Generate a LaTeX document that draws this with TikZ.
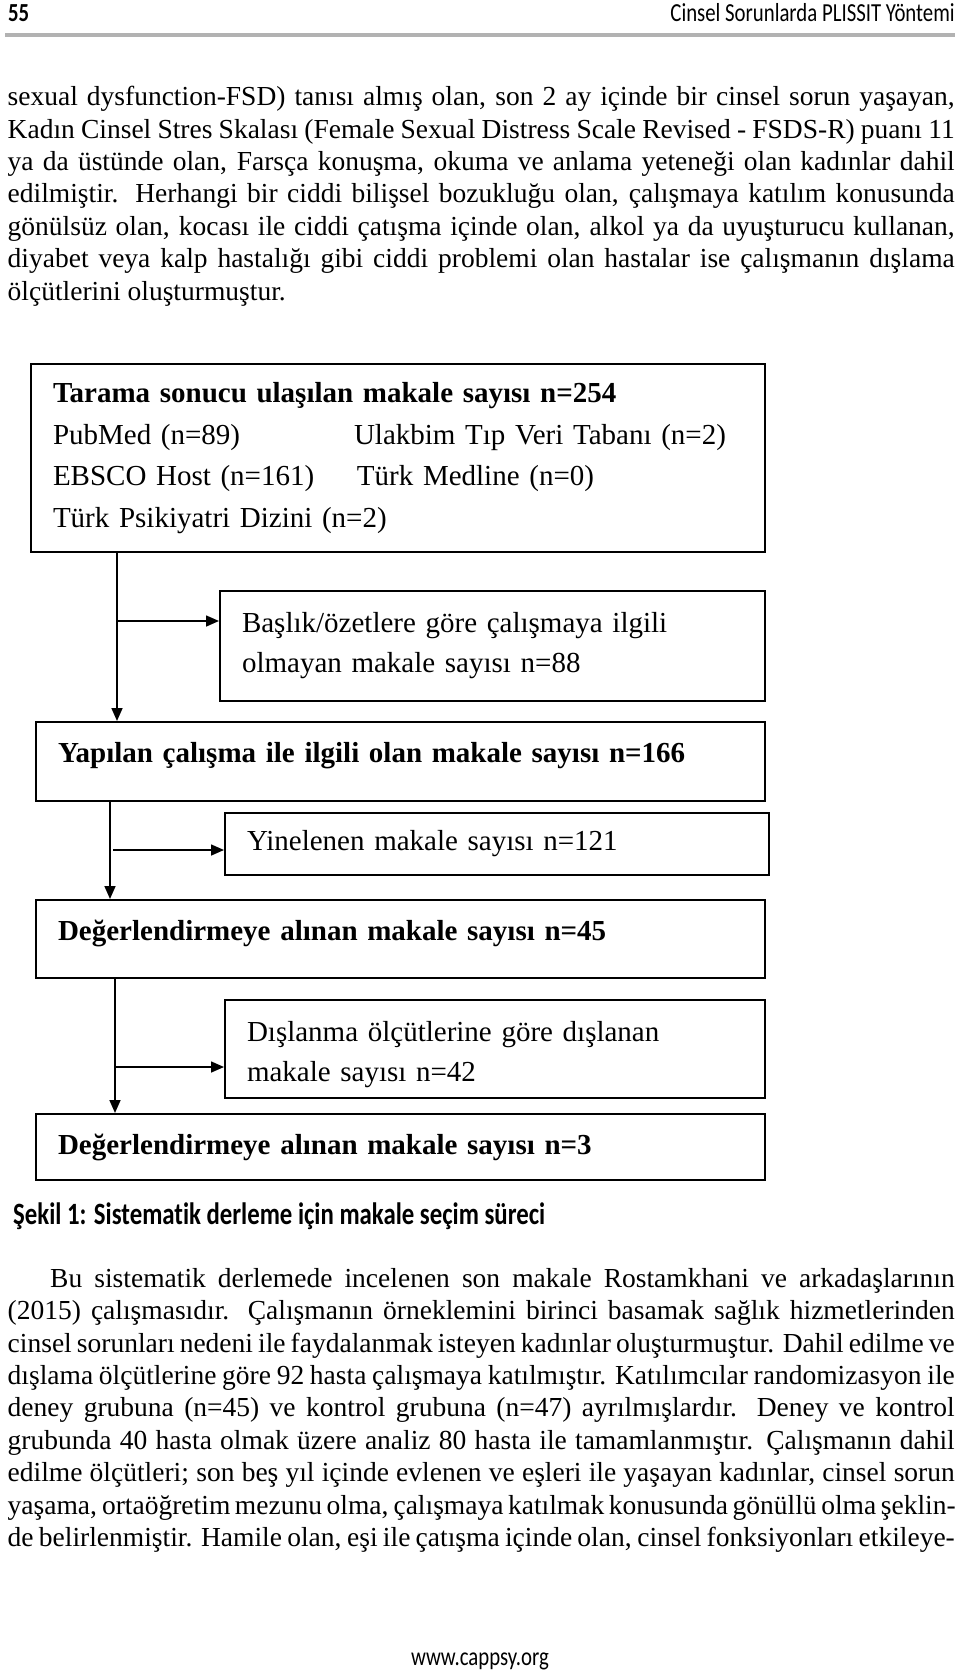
\documentclass[tikz,border=0pt]{standalone}
\usepackage{fontspec}
\setmainfont{Liberation Serif}
\newfontfamily\condsans[FakeStretch=0.8,Ligatures=NoCommon]{Carlito}
\usetikzlibrary{arrows.meta}

\newcommand{\justline}[2][947pt]{\makebox[#1][s]{#2}}

\tikzset{
  flowbox/.style={draw, line width=2pt, anchor=north west, inner xsep=22pt, inner ysep=0pt,
    align=left, font=\fontsize{29}{40}\selectfont},
  bodytext/.style={anchor=base west, inner sep=0pt, align=left, font=\fontsize{27.5}{32.4}\selectfont},
  flow/.style={line width=1.6pt, -{Triangle[length=13pt,width=11pt]}},
}

\begin{document}
\begin{tikzpicture}[x=1pt,y=-1pt]
  \fill[white] (0,0) rectangle (960,1673);
  \useasboundingbox (0,0) rectangle (960,1673);

  \node[anchor=base west, inner sep=0pt, font=\condsans\bfseries\fontsize{26}{28}\selectfont] (pageno) at (8,21) {55};
  \node[anchor=base east, inner sep=0pt, font=\condsans\fontsize{26}{28}\selectfont] (runhead) at (955,21) {Cinsel Sorunlarda PLISSIT Yöntemi};
  \draw[line width=4pt, black!30] (5,35) -- (955,35);

  \node[bodytext] (para1) at (7.5,300) {%
    \justline{sexual dysfunction-FSD) tanısı almış olan, son 2 ay içinde bir cinsel sorun yaşayan,}\\
    \justline{Kadın Cinsel Stres Skalası (Female Sexual Distress Scale Revised - FSDS-R) puanı 11}\\
    \justline{ya da üstünde olan, Farsça konuşma, okuma ve anlama yeteneği olan kadınlar dahil}\\
    \justline{edilmiştir. Herhangi bir ciddi bilişsel bozukluğu olan, çalışmaya katılım konusunda}\\
    \justline{gönülsüz olan, kocası ile ciddi çatışma içinde olan, alkol ya da uyuşturucu kullanan,}\\
    \justline{diyabet veya kalp hastalığı gibi ciddi problemi olan hastalar ise çalışmanın dışlama}\\
    ölçütlerini oluşturmuştur.};

  \node[flowbox, text width=690pt, minimum height=188pt, font=\fontsize{29}{41.7}\selectfont] (search) at (30,363) {%
    \textbf{Tarama sonucu ulaşılan makale sayısı n=254}\\
    \makebox[301pt][l]{PubMed (n=89)}Ulakbim Tıp Veri Tabanı (n=2)\\
    \makebox[304pt][l]{EBSCO Host (n=161)}Türk Medline (n=0)\\
    Türk Psikiyatri Dizini (n=2)};
  \node[flowbox, text width=501pt, minimum height=110pt] (title) at (219,590) {%
    Başlık/özetlere göre çalışmaya ilgili\\ olmayan makale sayısı n=88};
  \node[flowbox, text width=685pt, minimum height=79pt] (related) at (35,721) {%
    \textbf{Yapılan çalışma ile ilgili olan makale sayısı n=166}\rule[-18pt]{0pt}{1pt}};
  \node[flowbox, text width=500pt, minimum height=62pt] (dupl) at (224,812) {%
    Yinelenen makale sayısı n=121};
  \node[flowbox, text width=685pt, minimum height=78pt] (eval) at (35,899) {%
    \textbf{Değerlendirmeye alınan makale sayısı n=45}\rule[-18pt]{0pt}{1pt}};
  \node[flowbox, text width=496pt, minimum height=98pt] (excl) at (224,999) {%
    \rule{0pt}{32pt}Dışlanma ölçütlerine göre dışlanan\\ makale sayısı n=42};
  \node[flowbox, text width=685pt, minimum height=66pt] (final) at (35,1113) {%
    \textbf{Değerlendirmeye alınan makale sayısı n=3}};

  \coordinate (trunk1) at (search.south -| 117,0);
  \coordinate (trunk2) at (related.south -| 110,0);
  \coordinate (trunk3) at (eval.south -| 115,0);
  \coordinate (side1) at (117,621);
  \coordinate (side2) at (113,850);
  \coordinate (side3) at (115,1067);

  \draw[flow] (trunk1) -- (trunk1 |- related.north);
  \draw[flow] (side1) -- (side1 -| title.west);
  \draw[flow] (trunk2) -- (trunk2 |- eval.north);
  \draw[flow] (side2) -- (side2 -| dupl.west);
  \draw[flow] (trunk3) -- (trunk3 |- final.north);
  \draw[flow] (side3) -- (side3 -| excl.west);

  \node[anchor=base west, inner sep=0pt, font=\condsans\bfseries\fontsize{31}{33}\selectfont] (caption) at (13,1224) {Şekil 1: Sistematik derleme için makale seçim süreci};

  \node[bodytext] (para2) at (7.5,1546.5) {%
    \hspace*{42.5pt}\justline[904.5pt]{Bu sistematik derlemede incelenen son makale Rostamkhani ve arkadaşlarının}\\
    \justline{(2015) çalışmasıdır. Çalışmanın örneklemini birinci basamak sağlık hizmetlerinden}\\
    \justline{cinsel sorunları nedeni ile faydalanmak isteyen kadınlar oluşturmuştur. Dahil edilme ve}\\
    \justline{dışlama ölçütlerine göre 92 hasta çalışmaya katılmıştır. Katılımcılar randomizasyon ile}\\
    \justline{deney grubuna (n=45) ve kontrol grubuna (n=47) ayrılmışlardır. Deney ve kontrol}\\
    \justline{grubunda 40 hasta olmak üzere analiz 80 hasta ile tamamlanmıştır. Çalışmanın dahil}\\
    \justline{edilme ölçütleri; son beş yıl içinde evlenen ve eşleri ile yaşayan kadınlar, cinsel sorun}\\
    \justline{yaşama, ortaöğretim mezunu olma, çalışmaya katılmak konusunda gönüllü olma şeklin-}\\
    \justline{de belirlenmiştir. Hamile olan, eşi ile çatışma içinde olan, cinsel fonksiyonları etkileye-}};

  \node[anchor=base, inner sep=0pt, font=\condsans\fontsize{26}{28}\selectfont] (footer) at (480,1665) {www.cappsy.org};
\end{tikzpicture}
\end{document}
